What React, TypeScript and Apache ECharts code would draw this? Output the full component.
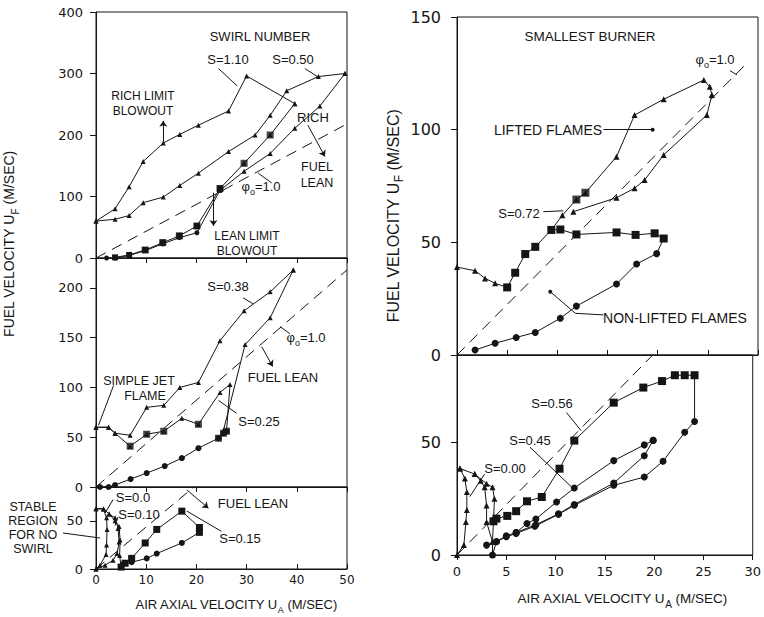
import { useEffect, useRef } from 'react';
import * as echarts from 'echarts';

// ---------------- Left column: large burner ----------------
// Top panel (S = 1.10 and S = 0.50), y 0-400
const s110Rich = [[0, 60], [3.8, 80], [6.6, 116], [9.4, 157], [13.4, 187], [16.7, 201], [20.4, 216], [26.4, 239], [30, 296], [39.6, 251]];
const s110Return = [[39.6, 251], [34.7, 200], [29.5, 154], [24.7, 113]];
const s110Lean = [[24.7, 113], [20.1, 52], [16.6, 36], [13.3, 25], [9.8, 13], [6.6, 5], [3.8, 1]];
const s050Rich = [[0, 60], [3.8, 63], [6.6, 69], [9.4, 90], [13.4, 99], [16.7, 118], [20.4, 138], [26.4, 173], [31.7, 200], [34.7, 232], [38, 272], [44.3, 295], [49.6, 300]];
const s050Return = [[49.6, 300], [44.6, 247], [39.6, 211], [34.7, 170], [29.5, 141], [24.7, 110]];
const s050Lean = [[24.7, 110], [20.1, 41], [16.6, 33], [13.3, 23], [9.8, 12], [6.6, 4], [3.8, 0], [2.1, 0]];
const topLeftSquares = [[34.7, 200], [29.5, 154], [24.7, 113], [20.1, 52], [16.6, 36], [13.3, 25], [9.8, 13]];

// Middle panel (S = 0.38 and S = 0.25), y 0-230
const s038Rich = [[0, 60], [2.5, 60], [3.8, 54], [6.8, 52], [10.1, 80], [13.5, 82], [16.7, 100], [20.4, 105], [24.7, 147], [29.5, 177], [34.7, 196], [39.3, 218]];
const s038Return = [[39.3, 218], [34.7, 170], [29.7, 143], [25.4, 57]];
const s025Rich = [[0, 60], [2.5, 60], [3.8, 54], [6.8, 41], [10.1, 53], [13.5, 56], [17.1, 69], [20.4, 63], [24.7, 95], [26.7, 103], [26, 56]];
const s025Squares = [[6.8, 41], [10.1, 53], [13.5, 56], [20.4, 63]];
const midLean = [[0.8, 0], [2.5, 0], [3.8, 2], [6.9, 8], [10.1, 14], [13.7, 21], [17.1, 29], [20.4, 39], [24.4, 49], [25.4, 54], [26, 56]];
const midLeanSquares = [[24.4, 49], [25.4, 54], [26, 56]];

// Bottom panel (S = 0.0, 0.10, 0.15), y 0-85
const s000a = [[0, 0], [0.8, 4], [2, 15], [2.1, 25], [2.2, 41], [2.1, 53], [1.5, 62], [0, 62.5]];
const s000b = [[0, 62.5], [1.5, 62.5], [2.6, 57], [3.8, 53], [4.4, 42], [4.6, 28], [4.2, 16], [3.4, 9], [1.8, 4], [0, 0]];
const s010 = [[2.6, 57], [3.8, 50], [4.6, 44], [4.8, 30], [4.7, 14], [5, 2]];
const s015Up = [[5, 2], [5.8, 6], [7.1, 11], [9.8, 27], [12.1, 41], [17.1, 60], [20.6, 43], [20.6, 38]];
const s015Down = [[20.6, 38], [17.1, 27], [12.1, 16], [10.1, 11], [7.1, 7], [5.4, 5], [5, 2]];

// ---------------- Right column: smallest burner ----------------
// Top panel, y 0-150
const r072Low = [[0, 39], [1.8, 37.4], [2.8, 34], [3.8, 31.8], [5, 30]];
const r072Squares = [[5, 30], [5.8, 36.5], [6.8, 44.8], [7.8, 48], [9.4, 55.5], [10.3, 55.7], [11.9, 53.5], [15.9, 54.4], [17.8, 53.3], [19.7, 54], [20.6, 51.7]];
const nonLifted = [[20.6, 51.7], [19.9, 45], [17.9, 40.4], [15.9, 31.5], [11.9, 21.7], [10.3, 16.3], [7.8, 10], [5.9, 7.8], [3.8, 5.2], [1.8, 2.2]];
const liftedUp = [[9.4, 55.5], [10.5, 62], [11.9, 69], [12.8, 72], [15.9, 88], [17.7, 106.5], [20.6, 113.5], [24.6, 122], [25.2, 119], [25.4, 115.4]];
const liftedDown = [[25.4, 115.4], [24.9, 106.5], [20.6, 88.8], [18.7, 77.7], [17.7, 74], [15.9, 69.8], [11.6, 63.6]];
const liftedSquares = [[11.9, 69], [12.8, 72]];

// Bottom panel, y 0-89
const r000a = [[0, 0], [0.7, 4.5], [0.9, 14.7], [1, 20], [1, 28], [0.8, 34], [0.3, 38.5]];
const r000b = [[0.3, 38.5], [1.8, 36], [3, 31.7], [3.6, 30.2], [3.8, 25], [3.7, 15], [3.6, 5.9], [3.6, 0]];
const r000c = [[1.8, 36], [2.4, 33], [2.8, 30.2], [3, 22], [3, 14.7], [3.6, 5.9]];
const r056Rich = [[3.7, 15], [4, 16.2], [5.1, 17.4], [6, 19.5], [7.1, 23.9], [8.6, 25.8], [10.4, 38.4], [11.9, 50.9], [15.9, 67.8], [18.9, 74.5], [20.8, 77.4], [22.1, 80], [23.1, 80], [24.1, 80]];
const r056Lean = [[24.1, 80], [24.1, 59.4], [23.1, 54.6], [20.9, 41.7], [19, 34.7], [15.9, 31], [11.9, 22.1], [10.3, 18.1], [7.9, 12.8], [6, 9.6], [5, 8.1], [4, 5.9], [3, 4.4]];
const r045Rich = [[3.6, 0], [4, 6], [5, 8.5], [6, 10], [7.1, 14], [8, 16], [10.1, 23.6], [11.9, 29.8], [15.9, 42], [19, 49], [19.9, 51]];
const r045Lean = [[19.9, 51], [19, 44.2], [15.9, 32], [11.9, 22.5], [10.3, 18.3], [8, 13.5], [6, 10]];

// Stoichiometric (phi = 1.0) reference lines
const phiLeft = [[0, 0], [50, 218]];
const phiRight = [[0, 0], [29, 130]];

// Axis tick settings
const leftYMax = [400, 230, 85];
const leftYStep = [100, 50, 50];
const rightYMax = [150, 89];
const rightYStep = [50, 50];

const INK = '#151515';
const TXT = "'Liberation Sans', Arial, Helvetica, sans-serif";
const NUM = "'DejaVu Sans', sans-serif";

type Leader = { a: number[]; b: number[]; end?: string; start?: string; size?: number; curve?: number };

function path(g: number, data: number[][], symbol: string, size: number, z = 3) {
  return {
    type: 'line', xAxisIndex: g, yAxisIndex: g, data, symbol, symbolSize: size,
    showSymbol: symbol !== 'none', lineStyle: { color: INK, width: 1 }, itemStyle: { color: INK },
    z, silent: true, animation: false,
  };
}
function marks(g: number, data: number[][], symbol: string, size: number) {
  return {
    type: 'scatter', xAxisIndex: g, yAxisIndex: g, data, symbol, symbolSize: size,
    itemStyle: { color: INK }, z: 5, silent: true, animation: false,
  };
}
function phi(g: number, data: number[][], leaders: Leader[]) {
  return {
    type: 'line', xAxisIndex: g, yAxisIndex: g, data, symbol: 'none', silent: true, animation: false,
    lineStyle: { color: INK, width: 1, type: [11, 7] }, z: 2,
    markLine: {
      silent: true, animation: false, symbol: ['none', 'none'], symbolSize: 7,
      label: { show: false }, emphasis: { disabled: true },
      lineStyle: { color: INK, width: 1, type: 'solid' },
      data: leaders.map((l) => [
        { coord: l.a, symbol: l.start || 'none', symbolSize: 4, ...(l.curve ? { lineStyle: { curveness: l.curve } } : {}) },
        { coord: l.b, symbol: l.end || 'none', symbolSize: l.size || 7 },
      ]),
    },
  };
}

const grids = [
  { left: 96, top: 12, width: 251, height: 246 },
  { left: 96, top: 258, width: 251, height: 229 },
  { left: 96, top: 487, width: 251, height: 82 },
  { left: 457, top: 17, width: 301, height: 338 },
  { left: 457, top: 355, width: 301, height: 200 },
].map((g) => ({ ...g, show: true, borderColor: INK, borderWidth: 1, backgroundColor: 'transparent' }));

function xAxis(g: number, max: number, step: number, labels: boolean, inside: boolean, fontSize: number, margin: number) {
  return {
    type: 'value', gridIndex: g, min: 0, max, interval: step,
    axisLine: { show: true, onZero: false, lineStyle: { color: INK, width: 1 } },
    axisTick: { show: true, inside, length: 5, lineStyle: { color: INK } },
    axisLabel: { show: labels, color: INK, fontFamily: NUM, fontSize, margin },
    splitLine: { show: false },
  };
}
function yAxis(g: number, max: number, step: number, fontSize: number, margin: number, showMax: boolean) {
  return {
    type: 'value', gridIndex: g, min: 0, max, interval: step,
    axisLine: { show: true, onZero: false, lineStyle: { color: INK, width: 1 } },
    axisTick: { show: true, length: 6, lineStyle: { color: INK } },
    axisLabel: { color: INK, fontFamily: NUM, fontSize, margin, showMaxLabel: showMax, showMinLabel: true },
    splitLine: { show: false },
  };
}

function txt(x: number, y: number, text: string, size = 13) {
  return {
    type: 'text', x, y, silent: true,
    style: { text, fill: INK, fontFamily: TXT, fontSize: size, align: 'center', verticalAlign: 'middle' },
  };
}
function richTxt(x: number, y: number, text: string, size = 13, rotation = 0) {
  return {
    type: 'text', x, y, rotation, silent: true,
    style: {
      text, fill: INK, fontFamily: TXT, fontSize: size, align: 'center', verticalAlign: 'middle',
      rich: {
        t: { fill: INK, fontFamily: TXT, fontSize: size, lineHeight: size, verticalAlign: 'bottom', padding: [0, 0, 4, 0] },
        s: { fill: INK, fontFamily: TXT, fontSize: Math.round(size * 0.72), lineHeight: Math.round(size * 0.72), verticalAlign: 'bottom' },
      },
    },
  };
}

export default function App() {
  const ref = useRef<HTMLDivElement>(null);
  useEffect(() => {
    if (!ref.current) return;
    const chart = echarts.init(ref.current, null, { renderer: 'svg' });
    const option = {
      animation: false,
      backgroundColor: '#ffffff',
      grid: grids,
      xAxis: [
        xAxis(0, 50, 10, false, false, 12, 4),
        xAxis(1, 50, 10, false, false, 12, 4),
        xAxis(2, 50, 10, true, true, 12, 5),
        xAxis(3, 30, 5, false, true, 13, 10),
        xAxis(4, 30, 5, true, false, 13, 10),
      ],
      yAxis: [
        yAxis(0, leftYMax[0], leftYStep[0], 13, 13, true),
        yAxis(1, leftYMax[1], leftYStep[1], 13, 13, false),
        yAxis(2, leftYMax[2], leftYStep[2], 13, 13, false),
        yAxis(3, rightYMax[0], rightYStep[0], 16, 16, true),
        yAxis(4, rightYMax[1], rightYStep[1], 16, 16, false),
      ],
      series: [
        // top-left
        phi(0, phiLeft, [
          { a: [24.4, 308], b: [28.1, 280] },
          { a: [41.6, 308], b: [44.3, 294] },
          { a: [13.4, 188], b: [13.4, 223], end: 'arrow', size: 6 },
          { a: [42.2, 216], b: [45.6, 165], end: 'arrow', size: 6, curve: -0.35 },
          { a: [32.3, 138], b: [35, 122] },
          { a: [23.4, 106], b: [23.4, 52], end: 'arrow', size: 6 },
        ]),
        path(0, s110Rich, 'triangle', 5),
        path(0, s110Return, 'triangle', 5),
        path(0, s110Lean, 'rect', 6),
        path(0, s050Rich, 'triangle', 5),
        path(0, s050Return, 'triangle', 5),
        path(0, s050Lean, 'circle', 5),
        marks(0, topLeftSquares, 'rect', 7),
        // middle-left
        phi(1, phiLeft, [
          { a: [29.3, 190], b: [31.3, 184] },
          { a: [36.7, 161], b: [38.6, 154] },
          { a: [33, 141], b: [35.2, 121], end: 'arrow', size: 6 },
          { a: [3.5, 102], b: [0.5, 62] },
          { a: [24.4, 87], b: [28, 74] },
        ]),
        path(1, s038Rich, 'triangle', 5),
        path(1, s038Return, 'triangle', 5),
        path(1, s025Rich, 'triangle', 5),
        path(1, midLean, 'circle', 6),
        marks(1, s025Squares, 'rect', 7),
        marks(1, midLeanSquares, 'rect', 7),
        // bottom-left
        phi(2, phiLeft, [
          { a: [3.4, 72], b: [1.8, 58] },
          { a: [4.4, 54], b: [3.8, 45] },
          { a: [18.1, 82], b: [22.4, 63], end: 'arrow', size: 6 },
          { a: [18.1, 60], b: [25, 39] },
        ]),
        path(2, s000a, 'triangle', 5),
        path(2, s000b, 'triangle', 5),
        path(2, s010, 'triangle', 5),
        path(2, s015Up, 'rect', 7),
        path(2, s015Down, 'circle', 6),
        // top-right
        phi(3, phiRight, [
          { a: [14.6, 100], b: [19.5, 100], end: 'circle', size: 4 },
          { a: [8.6, 63.6], b: [10.6, 64] },
          { a: [9.3, 28.1], b: [11.8, 18.5], start: 'circle' },
          { a: [11.8, 18.5], b: [14.6, 17.8] },
          { a: [27.2, 126.2], b: [27.9, 124.3] },
        ]),
        path(3, r072Low, 'triangle', 6),
        path(3, r072Squares, 'rect', 8),
        path(3, nonLifted, 'circle', 7),
        path(3, liftedUp, 'triangle', 6),
        path(3, liftedDown, 'triangle', 6),
        marks(3, liftedSquares, 'rect', 8),
        // bottom-right
        phi(4, phiRight, [
          { a: [11.1, 63.4], b: [12.6, 55.3] },
          { a: [7.4, 48], b: [11.8, 29.5] },
          { a: [2.8, 36], b: [1.3, 26] },
        ]),
        path(4, r000a, 'triangle', 6),
        path(4, r000b, 'triangle', 6),
        path(4, r000c, 'triangle', 6),
        path(4, r056Rich, 'rect', 8),
        path(4, r056Lean, 'circle', 7),
        path(4, r045Rich, 'circle', 7),
        path(4, r045Lean, 'circle', 7),
      ],
      graphic: [
        // left column notes
        txt(260, 36, 'SWIRL NUMBER'),
        txt(228, 59, 'S=1.10'),
        txt(293, 59, 'S=0.50'),
        txt(143, 96, 'RICH LIMIT', 12),
        txt(143, 111, 'BLOWOUT', 12),
        txt(313, 117, 'RICH'),
        txt(317, 167, 'FUEL', 12.5),
        txt(317, 183, 'LEAN', 12.5),
        richTxt(261, 190, '{t|φ}{s|o}{t|=1.0}'),
        txt(247, 236, 'LEAN LIMIT', 12),
        txt(247, 251, 'BLOWOUT', 12),
        txt(228, 286, 'S=0.38'),
        richTxt(306, 341, '{t|φ}{s|o}{t|=1.0}'),
        txt(283, 377, 'FUEL LEAN'),
        txt(139, 381, 'SIMPLE JET', 12.5),
        txt(145, 396, 'FLAME', 12.5),
        txt(259, 421, 'S=0.25'),
        txt(133, 497, 'S=0.0'),
        txt(139, 514, 'S=0.10'),
        txt(253, 503, 'FUEL LEAN'),
        txt(240, 538, 'S=0.15'),
        txt(33, 507, 'STABLE', 12.5),
        txt(33, 521, 'REGION', 12.5),
        txt(33, 535, 'FOR NO', 12.5),
        txt(33, 549, 'SWIRL', 12.5),
        { type: 'line', silent: true, shape: { x1: 63, y1: 533, x2: 100, y2: 538 }, style: { stroke: INK, lineWidth: 1 } },
        richTxt(236, 608, '{t|AIR AXIAL VELOCITY U}{s|A}{t| (M/SEC)}', 13),
        richTxt(13, 244, '{t|FUEL VELOCITY U}{s|F}{t| (M/SEC)}', 14, Math.PI / 2),
        // right column notes
        txt(590, 36, 'SMALLEST BURNER', 13.5),
        richTxt(715, 63, '{t|φ}{s|o}{t|=1.0}'),
        txt(548, 130, 'LIFTED FLAMES', 14),
        txt(519, 213, 'S=0.72'),
        txt(675, 318, 'NON-LIFTED FLAMES', 14),
        txt(552, 403, 'S=0.56'),
        txt(530, 440, 'S=0.45'),
        txt(505, 468, 'S=0.00'),
        richTxt(622, 603, '{t|AIR AXIAL VELOCITY U}{s|A}{t| (M/SEC)}', 13.5),
        richTxt(397, 216, '{t|FUEL VELOCITY U}{s|F}{t| (M/SEC)}', 16, Math.PI / 2),
      ],
    };
    chart.setOption(option as any);
    return () => chart.dispose();
  }, []);
  return (
    <div
      ref={ref}
      style={{ position: 'fixed', left: 0, top: 0, width: 764, height: 617, background: '#fff' }}
    />
  );
}
